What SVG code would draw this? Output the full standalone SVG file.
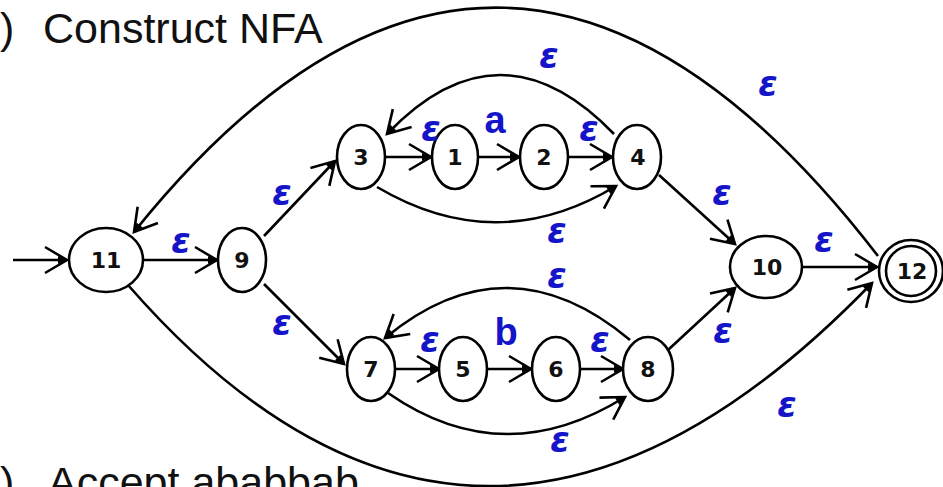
<svg xmlns="http://www.w3.org/2000/svg" width="943" height="487" viewBox="0 0 943 487">
<style>
.node ellipse{fill:#fff;stroke:#000;stroke-width:2.6}
.node text{font-family:"DejaVu Sans",sans-serif;font-weight:bold;font-size:22px;fill:#111;text-anchor:middle;dominant-baseline:central}
.edge{fill:none;stroke:#000;stroke-width:2.6;marker-end:url(#arr)}
.lbl{font-family:"DejaVu Sans",sans-serif;font-weight:bold;font-style:italic;font-size:35px;fill:#1414c8;text-anchor:middle}
.sym{font-family:"Liberation Sans",sans-serif;font-weight:bold;font-size:38px;fill:#1414c8;text-anchor:middle}
.title{font-family:"Liberation Sans",Arial,sans-serif;font-size:43px;fill:#111}
</style>
<defs>
<marker id="arr" markerUnits="userSpaceOnUse" markerWidth="40" markerHeight="40" refX="0" refY="0" orient="auto" overflow="visible" viewBox="-30 -20 40 40">
<path d="M-22,-13 L0,0 L-22,13" fill="none" stroke="#000" stroke-width="2.6"/>
<path d="M-9,-4 L0,0 L-9,4 Z" fill="#000"/>
</marker>
</defs>
<text class="title" x="0" y="43">)</text>
<text class="title" x="43" y="43">Construct NFA</text>
<text class="title" x="0" y="497">)</text>
<text class="title" x="48" y="497">Accept ababbab</text>
<g id="connectors">
<path class="edge" d="M13,260 L67,260"/>
<path class="edge" d="M144,260 L217,260"/>
<path class="edge" d="M264,236 L335,161"/>
<path class="edge" d="M264,284 L344,364"/>
<path class="edge" d="M385,157 L431,157"/>
<path class="edge" d="M478,157 L519,157"/>
<path class="edge" d="M568,157 L612,157"/>
<path class="edge" d="M614,134 Q500,16 387,134"/>
<path class="edge" d="M377,187 Q497,258 616,186"/>
<path class="edge" d="M395,369 L439,369"/>
<path class="edge" d="M487,369 L531,369"/>
<path class="edge" d="M580,369 L623,369"/>
<path class="edge" d="M630,340 Q507,237 385,338"/>
<path class="edge" d="M388,393 Q503,473 625,397"/>
<path class="edge" d="M659,175 L735,244"/>
<path class="edge" d="M668,350 L735,288"/>
<path class="edge" d="M803,267 L877,267"/>
<path class="edge" d="M878,256 C629,-67 381,-75 134,232"/>
<path class="edge" d="M128,285 C363,554 611,553 872,283"/>
</g>
<g id="n11" class="node"><ellipse cx="106" cy="260" rx="37" ry="32"/><text x="106" y="260">11</text></g>
<g id="n9" class="node"><ellipse cx="242" cy="260" rx="24" ry="32"/><text x="242" y="260">9</text></g>
<g id="n3" class="node"><ellipse cx="361" cy="157" rx="24" ry="32"/><text x="361" y="157">3</text></g>
<g id="n1" class="node"><ellipse cx="455" cy="157" rx="23" ry="32"/><text x="455" y="157">1</text></g>
<g id="n2" class="node"><ellipse cx="544" cy="157" rx="24" ry="32"/><text x="544" y="157">2</text></g>
<g id="n4" class="node"><ellipse cx="637" cy="157" rx="24" ry="32"/><text x="638" y="157">4</text></g>
<g id="n7" class="node"><ellipse cx="371" cy="369" rx="24" ry="32"/><text x="371" y="369">7</text></g>
<g id="n5" class="node"><ellipse cx="463" cy="369" rx="24" ry="32"/><text x="463" y="369">5</text></g>
<g id="n6" class="node"><ellipse cx="556" cy="369" rx="24" ry="32"/><text x="556" y="369">6</text></g>
<g id="n8" class="node"><ellipse cx="648" cy="369" rx="25" ry="32"/><text x="648" y="369">8</text></g>
<g id="n10" class="node"><ellipse cx="766" cy="267" rx="36" ry="31"/><text x="767" y="267">10</text></g>
<g id="n12" class="node"><ellipse cx="911" cy="271" rx="32" ry="31"/><ellipse cx="911" cy="271" rx="25" ry="25"/><text x="912" y="271">12</text></g>
<g id="labels">
<text class="lbl" x="181" y="253">ε</text>
<text class="lbl" x="282" y="205">ε</text>
<text class="lbl" x="282" y="335">ε</text>
<text class="lbl" x="431" y="141">ε</text>
<text class="sym" x="495" y="133">a</text>
<text class="lbl" x="589" y="141">ε</text>
<text class="lbl" x="549" y="68">ε</text>
<text class="lbl" x="557" y="243">ε</text>
<text class="lbl" x="430" y="352">ε</text>
<text class="sym" x="506" y="345">b</text>
<text class="lbl" x="600" y="352">ε</text>
<text class="lbl" x="557" y="288">ε</text>
<text class="lbl" x="560" y="452">ε</text>
<text class="lbl" x="722" y="205">ε</text>
<text class="lbl" x="723" y="343">ε</text>
<text class="lbl" x="824" y="252">ε</text>
<text class="lbl" x="768" y="96">ε</text>
<text class="lbl" x="787" y="417">ε</text>
</g>
</svg>
